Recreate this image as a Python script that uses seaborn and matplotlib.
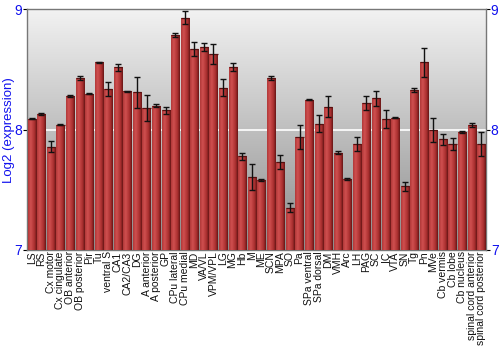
import numpy as np
import pandas as pd
import matplotlib
matplotlib.use("Agg")
import matplotlib.pyplot as plt
import seaborn as sns
from matplotlib.colors import LinearSegmentedColormap

regions = ["LS", "RS", "Cx motor", "Cx cingulate", "OB anterior", "OB posterior", "Pir", "Tu",
           "ventral S", "CA1", "CA2/CA3", "DG", "A anterior", "A posterior", "GP", "CPu lateral",
           "CPu medial", "MD", "VA/VL", "VPM/VPL", "LG", "MG", "Hb", "M", "ME", "SCN", "MPA", "SO",
           "Pa", "SPa ventral", "SPa dorsal", "DM", "VMH", "Arc", "LH", "PAG", "SC", "IC", "VTA",
           "SN", "Tg", "Pn", "MVe", "Cb vermis", "Cb lobe", "Cb nucleus", "spinal cord anterior",
           "spinal cord posterior"]
expression = [8.09, 8.13, 7.86, 8.04, 8.28, 8.43, 8.30, 8.56,
              8.34, 8.52, 8.32, 8.31, 8.18, 8.20, 8.16, 8.79,
              8.93, 8.67, 8.69, 8.63, 8.35, 8.52, 7.78, 7.61, 7.58, 8.43, 7.73, 7.35,
              7.94, 8.25, 8.05, 8.19, 7.81, 7.59, 7.88, 8.22, 8.26, 8.09, 8.10,
              7.53, 8.33, 8.56, 8.00, 7.92, 7.88, 7.98, 8.04,
              7.88]
error = [0.005, 0.005, 0.047, 0.005, 0.01, 0.015, 0.005, 0.005,
         0.058, 0.03, 0.005, 0.13, 0.107, 0.01, 0.03, 0.015,
         0.053, 0.06, 0.035, 0.08, 0.07, 0.033, 0.03, 0.108, 0.01, 0.015, 0.06, 0.036,
         0.1, 0.005, 0.07, 0.086, 0.01, 0.01, 0.057, 0.058, 0.06, 0.074, 0.005,
         0.038, 0.02, 0.12, 0.1, 0.044, 0.05, 0.007, 0.015,
         0.1]
yticks = [7, 8, 9]

df = pd.DataFrame({"region": regions, "expression": expression, "error": error})

sns.set_style("white")
plt.rcParams["font.family"] = ["Liberation Sans", "DejaVu Sans"]

fig = plt.figure(figsize=(5, 3.5), dpi=100)
ax = fig.add_axes([0.054, 0.286, 0.918, 0.687])

ymin, ymax = 7, 9
sns.barplot(data=df, x="region", y="expression", ax=ax, color="#b03434",
            width=0.85, errorbar=None, zorder=2)
ax.set_ylim(ymin, ymax)
ax.set_xlim(-0.5, len(regions) - 0.5)

# background gradient
bg = LinearSegmentedColormap.from_list("bg", ["#8c8c8c", "#f2f2f2"])
grad = np.linspace(0, 1, 256).reshape(-1, 1)
ax.imshow(grad, cmap=bg, aspect="auto", origin="lower",
          extent=(0, 1, 0, 1), transform=ax.transAxes, zorder=0)
ax.axhline(8, color="white", lw=1.2, zorder=1)

# bar shading
barcm = LinearSegmentedColormap.from_list("bar", [(0, "#b03838"), (0.3, "#d05050"),
                                                  (0.75, "#a82e2e"), (1, "#661616")])
hgrad = np.linspace(0, 1, 64).reshape(1, -1)
for p in ax.patches:
    x0, w = p.get_x(), p.get_width()
    h = p.get_height()
    p.set_edgecolor("none")
    im = ax.imshow(hgrad, cmap=barcm, aspect="auto",
                   extent=(x0, x0 + w, ymin, h), zorder=3)
    im.set_clip_path(p)
    ax.plot([x0, x0 + w], [h, h], color="#551010", lw=0.9, zorder=4, solid_capstyle="butt")

ax.errorbar(np.arange(len(regions)), df["expression"], yerr=df["error"], fmt="none",
            ecolor="#111111", elinewidth=1, capsize=2, capthick=1, zorder=5)

ax.set_yticks(yticks)
ax.set_yticklabels([str(t) for t in yticks])
ax.tick_params(axis="y", colors="#1010ee", labelsize=10, length=3, width=0.8,
               left=True, right=True, labelright=True, pad=0.5)
ax.tick_params(axis="y", color="black")
ax.tick_params(axis="x", labelsize=7.5, length=0, pad=1, labelrotation=90)
for lab in ax.get_xticklabels():
    lab.set_color("#111111")
ax.set_xlabel("")
ax.set_ylabel("Log2 (expression)", color="#1010ee", fontsize=9.5)
ax.yaxis.set_label_coords(-0.027, 0.5)
for s in ax.spines.values():
    s.set_color("#777777")
    s.set_linewidth(1)
    s.set_visible(True)

fig.savefig("out.png", dpi=100)
